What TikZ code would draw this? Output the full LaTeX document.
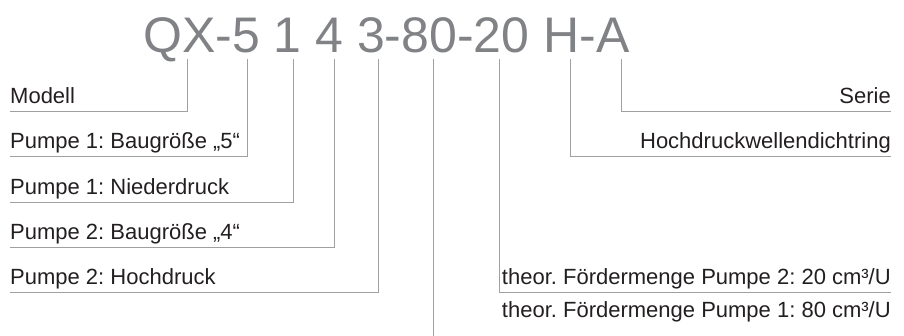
\documentclass[tikz,border=0pt]{standalone}
\usepackage{fontspec}
\setmainfont{Liberation Sans}
\frenchspacing
\definecolor{codegray}{HTML}{808285}
\definecolor{textdark}{HTML}{231F20}
\definecolor{leadgray}{HTML}{A0A0A0}
\tikzset{
  lbl/.style={inner sep=0pt, text depth=8pt, text=textdark,
    font=\fontsize{22}{26}\selectfont},
  lead/.style={draw=leadgray, line width=1pt},
}
\begin{document}
\begin{tikzpicture}[x=1pt, y=-1pt]
    \useasboundingbox (0,0) rectangle (904,336);

    % Typenschluessel
    \node[anchor=base west, inner sep=0pt, text=codegray,
      font=\fontsize{50}{60}\selectfont] (code) at (143,53) {QX-5 1 4 3-80-20 H-A};

    % Ansatzpunkte unter dem Schluessel
    \coordinate (tQX) at (187,59);
    \coordinate (tF) at (247,59);
    \coordinate (tN) at (293,59);
    \coordinate (tV) at (334,59);
    \coordinate (tH) at (378,59);
    \coordinate (tE) at (433,59);
    \coordinate (tZ) at (499,59);
    \coordinate (tW) at (570,59);
    \coordinate (tA) at (621,59);
    \coordinate (eE) at (433,336);

    % Links
    \node[lbl, anchor=south west] (modell) at (10,112) {Modell};
    \node[lbl, anchor=south west] (bg1) at (10,157) {Pumpe 1: Baugröße „5“};
    \node[lbl, anchor=south west] (nd1) at (10,203) {Pumpe 1: Niederdruck};
    \node[lbl, anchor=south west] (bg2) at (10,248) {Pumpe 2: Baugröße „4“};
    \node[lbl, anchor=south west] (hd2) at (10,293) {Pumpe 2: Hochdruck};

    % Rechts
    \node[lbl, anchor=south east] (serie) at (891,112) {Serie};
    \node[lbl, anchor=south east] (wdr) at (891,157) {Hochdruckwellendichtring};
    \node[lbl, anchor=south east] (fm2) at (891,293) {theor. Fördermenge Pumpe 2: 20 cm³/U};
    \node[lbl, anchor=south east] (fm1) at (891,326) {theor. Fördermenge Pumpe 1: 80 cm³/U};

    \draw[lead] (modell.south west) -| (tQX);
    \draw[lead] (bg1.south west) -| (tF);
    \draw[lead] (nd1.south west) -| (tN);
    \draw[lead] (bg2.south west) -| (tV);
    \draw[lead] (hd2.south west) -| (tH);
    \draw[lead] (serie.south east) -| (tA);
    \draw[lead] (wdr.south east) -| (tW);
    \draw[lead] (fm2.south east) -| (tZ);
    \draw[lead] (tE) -- (eE);
\end{tikzpicture}
\end{document}
